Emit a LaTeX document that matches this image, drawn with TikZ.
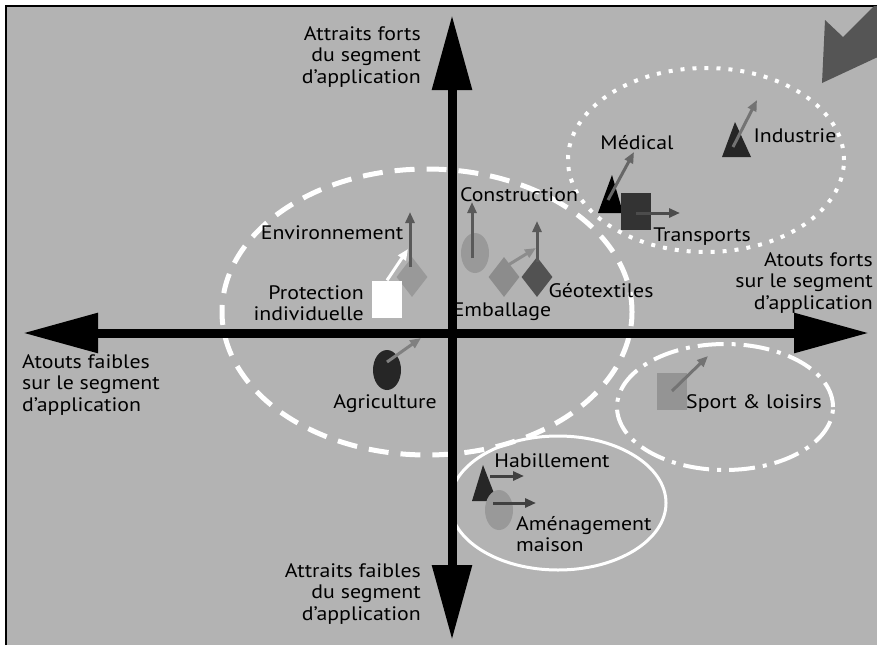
\documentclass[tikz,border=0pt]{standalone}
\usepackage{fontspec}
\setmainfont{PT Sans}[FakeStretch=1.12]
\usetikzlibrary{arrows.meta,shapes.geometric}
\definecolor{bg}{HTML}{B3B3B3}
\definecolor{bigarrow}{HTML}{555555}
\tikzset{
  lbl/.style={font=\fontsize{19.5}{21.5}\selectfont, text=black, inner sep=0pt},
  ptr/.style={line width=3pt, -{Triangle[length=11pt,width=9pt]}},
  axisline/.style={line width=9pt, {Triangle[length=75pt,width=38pt]}-{Triangle[length=75pt,width=38pt]}},
  blob/.style={draw=none, inner sep=0pt, minimum width=28pt, minimum height=40pt, ellipse},
  dia/.style={draw=none, inner sep=0pt, minimum width=31pt, minimum height=40pt, diamond, aspect=0.75},
  sq/.style={draw=none, inner sep=0pt, rectangle, minimum width=30pt, minimum height=37pt},
}
\begin{document}
\begin{tikzpicture}[x=1pt,y=-1pt]
\useasboundingbox (0,0) rectangle (877,645);
\fill[white] (0,0) rectangle (877,645);
\fill[bg] (6,6) rectangle (877,645);
\draw[line width=2pt] (6,645) -- (6,6) -- (877,6);
% big arrow at top right
\begin{scope}
\clip (6,6) rectangle (877,645);
\fill[bigarrow] (825,20) -- (843,37) -- (874,6) -- (880,6) -- (880,56) -- (822,83) -- cycle;
\end{scope}
% ellipses
\draw[white, line width=4pt, dash pattern=on 4pt off 8pt] (706,160) ellipse [x radius=138pt, y radius=92pt];
\draw[white, line width=5pt, dash pattern=on 20pt off 12pt] (427,312) ellipse [x radius=205pt, y radius=143pt];
\draw[white, line width=4pt, dash pattern=on 26pt off 8pt on 4pt off 8pt] (725,407) ellipse [x radius=108pt, y radius=63pt];
\draw[white, line width=3pt] (558,503) ellipse [x radius=108pt, y radius=67pt];
% axes
\coordinate (ytop) at (452,15);
\coordinate (ybot) at (452,640);
\coordinate (xleft) at (23,333);
\coordinate (xright) at (869,333);
\draw[axisline] (ybot) -- (ytop);
\draw[axisline] (xleft) -- (xright);
% axis labels
\node[lbl, align=right, anchor=east] (lt) at (421,57) {Attraits forts\\du segment\\d’application};
\node[lbl, align=right, anchor=east] (lb) at (421,594) {Attraits faibles\\du segment\\d’application};
\node[lbl, align=left, anchor=west] (ll) at (22,385) {Atouts faibles\\sur le segment\\d’application};
\node[lbl, align=right, anchor=east] (lr) at (873,283) {Atouts forts\\sur le segment\\d’application};
% Medical
\fill[black] (612,175) -- (623,213) -- (598,213) -- cycle;
\coordinate (med) at (608,200);
\coordinate (medE) at (634,152);
\draw[ptr, color=black!60] (med) -- (medE);
\node[lbl] (tmed) at (637,143) {Médical};
% Transports
\node[sq, fill=black!80] (trans) at (636,211) {};
\coordinate (transE) at (680,213);
\draw[ptr, color=black!70] (trans.center |- transE) -- (transE);
\node[lbl] (ttrans) at (702,237) {Transports};
% Industrie
\fill[black!85] (735,122) -- (751,157) -- (722,157) -- cycle;
\coordinate (ind) at (733,147);
\coordinate (indE) at (757,100);
\draw[ptr, color=black!55] (ind) -- (indE);
\node[lbl] (tind) at (795,136) {Industrie};
% Environnement
\node[dia, fill=black!40] (env) at (412,277) {};
\coordinate (envS) at (410,267);
\coordinate (envE) at (410,212);
\draw[ptr, color=black!65] (envS) -- (envE);
\node[lbl] (tenv) at (332,233) {Environnement};
% Protection individuelle
\node[sq, fill=white] (prot) at (387,299) {};
\coordinate (protE) at (408,249);
\draw[ptr, color=white] (prot.north) -- (protE);
\node[lbl, align=right, anchor=east] (tprot) at (364,303) {Protection\\individuelle};
% Construction
\node[blob, fill=black!40] (cons) at (475,253) {};
\coordinate (consS) at (472,258);
\coordinate (consE) at (472,202);
\draw[ptr, color=black!65] (consS) -- (consE);
\node[lbl] (tcons) at (519,195) {Construction};
% Emballage
\node[dia, fill=black!45] (emb) at (504,277) {};
\coordinate (embS) at (500,270);
\coordinate (embE) at (536,248);
% Geotextiles
\node[dia, fill=black!68] (geo) at (537,277) {};
\coordinate (geoS) at (537,262);
\coordinate (geoE) at (537,221);
\draw[ptr, color=black!45] (embS) -- (embE);
\draw[ptr, color=black!65] (geoS) -- (geoE);
\node[lbl] (temb) at (502,312) {Emballage};
\node[lbl] (tgeo) at (601,291) {Géotextiles};
% Agriculture
\node[blob, fill=black!85] (agr) at (387,370) {};
\coordinate (agrS) at (387,362);
\coordinate (agrE) at (421,338);
\draw[ptr, color=black!50] (agrS) -- (agrE);
\node[lbl] (tagr) at (385,404) {Agriculture};
% Sport & loisirs
\node[sq, fill=black!42] (spo) at (672,391) {};
\coordinate (spoE) at (708,356);
\draw[ptr, color=black!55] (spo.center) -- (spoE);
\node[lbl] (tspo) at (754,404) {Sport \& loisirs};
% Habillement
\fill[black!85] (483,465) -- (497,501) -- (472,501) -- cycle;
\coordinate (hab) at (490,476);
\coordinate (habE) at (524,476);
% Amenagement
\node[blob, fill=black!40] (ame) at (499,510) {};
\coordinate (ameS) at (493,503);
\coordinate (ameE) at (536,503);
\draw[ptr, color=black!75] (hab) -- (habE);
\draw[ptr, color=black!75] (ameS) -- (ameE);
\node[lbl] (thab) at (552,461) {Habillement};
\node[lbl, align=left, anchor=west] (tame) at (516,534) {Aménagement\\maison};
\end{tikzpicture}
\end{document}
